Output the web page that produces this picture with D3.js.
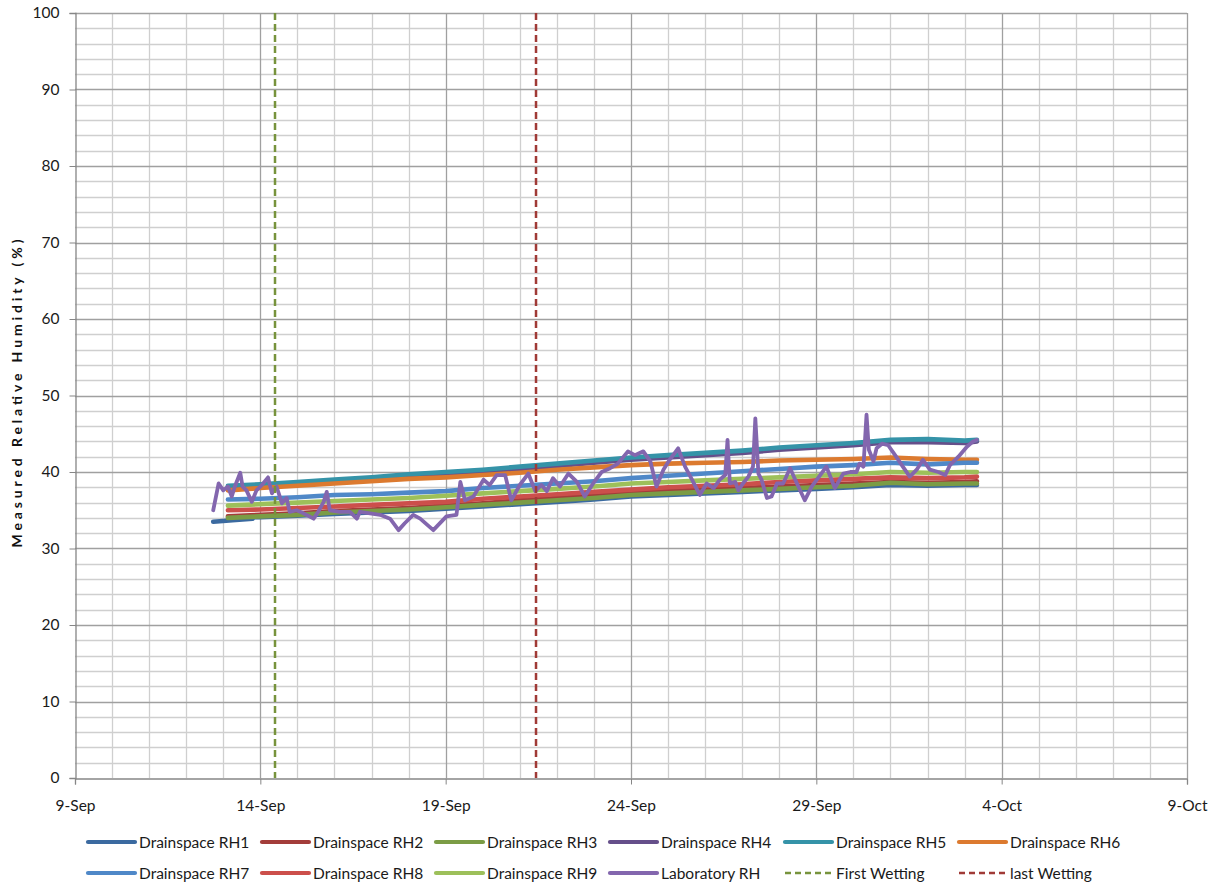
<!DOCTYPE html>
<html><head><meta charset="utf-8">
<script src="https://cdn.jsdelivr.net/npm/d3@7"></script>
<style>
html,body{margin:0;padding:0;background:#fff;}
svg{display:block;font-family:Lato,"Open Sans",sans-serif;}
</style></head>
<body><svg id="chart" width="1217" height="886"></svg>
<script>
const YEAR = 2011;
const seriesNames = ["Drainspace RH1","Drainspace RH2","Drainspace RH3","Drainspace RH4","Drainspace RH5","Drainspace RH6","Drainspace RH7","Drainspace RH8","Drainspace RH9","Laboratory RH"];
const seriesColors = ["#3B6AA0","#A33D3A","#7B9C45","#654F8A","#3593A8","#DC7A2F","#4F88C8","#CC4F4B","#9DC05A","#8366AE"];
const wettingNames = ["First Wetting","last Wetting"];
const wettingTimes = ["09-14 09:30","09-21 10:30"];
const wettingColors = ["#77933C","#A03A36"];
const xTickDates = ["09-09","09-14","09-19","09-24","09-29","10-04","10-09"];
const yTicks = [0,10,20,30,40,50,60,70,80,90,100];

const rh1Times = ["09-12 17:30","09-13 06:00","09-13 19:00","09-13 19:30","09-14 00:00","09-15 00:00","09-16 00:00","09-17 00:00","09-18 00:00","09-19 00:00","09-20 00:00","09-21 00:00","09-22 00:00","09-23 00:00","09-24 00:00","09-25 00:00","09-26 00:00","09-27 00:00","09-28 00:00","09-29 00:00","09-30 00:00","10-01 00:00","10-02 00:00","10-03 00:00","10-03 08:00"];
const rh1 = [33.5,33.7,33.9,34.1,34.1,34.3,34.5,34.7,34.9,35.2,35.5,35.8,36.1,36.4,36.8,37.0,37.2,37.4,37.6,37.8,38.0,38.3,38.2,38.3,38.3];

const drainTimes = ["09-13 03:00","09-14 00:00","09-15 00:00","09-16 00:00","09-17 00:00","09-18 00:00","09-19 00:00","09-20 00:00","09-21 00:00","09-22 00:00","09-23 00:00","09-24 00:00","09-25 00:00","09-26 00:00","09-27 00:00","09-28 00:00","09-29 00:00","09-30 00:00","10-01 00:00","10-02 00:00","10-03 00:00","10-03 08:00"];
const rh2 = [34.2,34.4,34.6,34.9,35.1,35.3,35.6,35.9,36.3,36.6,36.9,37.2,37.5,37.7,37.9,38.1,38.3,38.5,38.7,38.6,38.7,38.8];
const rh3 = [34.0,34.2,34.4,34.7,34.9,35.1,35.4,35.7,36.0,36.3,36.6,37.0,37.2,37.4,37.6,37.8,38.0,38.2,38.6,38.4,38.5,38.5];
const rh4 = [37.9,38.1,38.4,38.7,39.0,39.4,39.7,40.0,40.4,40.8,41.2,41.6,41.9,42.2,42.5,42.9,43.2,43.5,43.9,43.9,43.8,44.0];
const rh5 = [38.2,38.4,38.7,39.0,39.3,39.7,40.0,40.3,40.7,41.1,41.5,41.9,42.2,42.5,42.8,43.2,43.5,43.8,44.2,44.3,44.1,44.2];
const rh6 = [37.6,37.9,38.2,38.5,38.8,39.1,39.3,39.6,39.9,40.3,40.6,40.9,41.1,41.2,41.3,41.5,41.6,41.7,41.9,41.7,41.6,41.6];
const rh7 = [36.4,36.5,36.7,37.0,37.1,37.3,37.5,37.9,38.2,38.5,38.8,39.2,39.5,39.8,40.1,40.4,40.7,40.9,41.2,41.0,41.2,41.2];
const rh8 = [35.0,35.1,35.3,35.5,35.7,35.9,36.1,36.5,36.8,37.1,37.4,37.7,38.0,38.2,38.4,38.7,38.9,39.1,39.3,39.2,39.3,39.4];
const rh9 = [35.6,35.8,36.0,36.2,36.4,36.6,36.9,37.2,37.5,37.8,38.1,38.5,38.7,38.9,39.1,39.3,39.5,39.7,40.0,39.9,40.0,40.0];

const labTimes = ["09-12 17:30","09-12 21:00","09-13 00:00","09-13 03:00","09-13 05:30","09-13 07:30","09-13 11:00","09-13 12:30","09-13 15:00","09-13 18:30","09-13 21:30","09-14 01:00","09-14 05:00","09-14 07:30","09-14 10:30","09-14 14:00","09-14 17:00","09-14 19:00","09-14 23:30","09-15 04:00","09-15 10:30","09-15 13:30","09-15 17:00","09-15 19:00","09-15 21:00","09-16 03:30","09-16 10:00","09-16 14:30","09-16 16:30","09-16 23:00","09-17 05:30","09-17 12:00","09-17 17:30","09-17 21:30","09-18 03:00","09-18 07:30","09-18 16:00","09-19 00:30","09-19 07:00","09-19 09:30","09-19 12:30","09-19 18:00","09-20 00:30","09-20 04:30","09-20 09:00","09-20 14:30","09-20 18:30","09-21 00:00","09-21 05:30","09-21 10:00","09-21 14:00","09-21 17:30","09-21 21:30","09-22 02:00","09-22 07:30","09-22 13:00","09-22 18:00","09-22 23:30","09-23 05:00","09-23 10:30","09-23 15:30","09-23 22:00","09-24 02:30","09-24 08:00","09-24 12:30","09-24 16:30","09-24 21:00","09-25 01:00","09-25 06:30","09-25 11:00","09-25 15:30","09-25 20:30","09-26 01:00","09-26 05:30","09-26 09:30","09-26 13:00","09-26 14:30","09-26 16:00","09-26 19:30","09-26 21:30","09-27 00:30","09-27 04:00","09-27 07:00","09-27 08:30","09-27 10:30","09-27 12:30","09-27 16:00","09-27 19:00","09-27 22:30","09-28 02:30","09-28 07:00","09-28 11:00","09-28 16:30","09-28 21:00","09-29 02:30","09-29 06:30","09-29 12:00","09-29 17:30","09-29 22:00","09-30 02:00","09-30 04:00","09-30 06:30","09-30 08:30","09-30 10:00","09-30 13:00","09-30 15:00","09-30 18:30","09-30 22:30","10-01 03:00","10-01 08:00","10-01 12:30","10-01 17:00","10-01 21:00","10-02 01:30","10-02 07:00","10-02 11:30","10-02 14:30","10-02 20:00","10-03 01:30","10-03 05:30","10-03 08:00"];
const labRH = [35.0,38.5,37.6,38.1,36.8,38.1,39.9,38.1,37.6,36.1,37.6,38.3,39.3,37.2,38.1,35.9,36.6,34.8,35.0,34.6,33.9,34.8,36.1,37.4,35.0,34.8,34.8,33.9,34.8,34.6,34.4,33.9,32.4,33.3,34.4,33.9,32.4,34.2,34.4,38.7,36.3,36.8,39.0,38.3,39.6,39.6,36.3,38.3,39.8,37.5,38.3,37.5,39.2,38.1,39.8,38.7,36.8,38.5,40.0,40.5,41.1,42.7,42.2,42.7,41.4,38.1,40.3,41.6,43.1,40.7,39.0,37.0,38.5,37.9,39.0,39.6,44.2,38.5,38.7,37.6,38.5,39.4,40.7,47.0,39.8,39.0,36.6,36.8,38.5,38.5,40.5,38.7,36.3,38.1,39.6,40.7,37.9,39.8,40.0,40.0,41.1,40.7,47.5,42.9,41.4,43.1,43.7,43.5,42.2,40.7,39.4,40.3,41.6,40.3,40.0,39.6,40.9,42.0,43.3,44.0,44.2];

const parseT = s => d3.timeParse("%Y-%m-%d %H:%M")(YEAR + "-" + (s.length === 5 ? s + " 00:00" : s));

const seriesData = [
  [rh1Times, rh1],[drainTimes, rh2],[drainTimes, rh3],[drainTimes, rh4],[drainTimes, rh5],
  [drainTimes, rh6],[drainTimes, rh7],[drainTimes, rh8],[drainTimes, rh9],[labTimes, labRH]
].map(([t, v]) => t.map((s, i) => ({ t: parseT(s), v: v[i] })));

const svg = d3.select("#chart");
const L = 75, R = 1187, T = 13, B = 778;
const x = d3.scaleTime().domain([parseT("09-09"), parseT("10-09")]).range([L, R]);
const y = d3.scaleLinear().domain([0, 100]).range([B, T]);

// grid
const g = svg.append("g");
const days = d3.timeDay.range(parseT("09-09"), d3.timeDay.offset(parseT("10-09"), 1));
const majorX = xTickDates.map(parseT);
const isMajorX = d => majorX.some(m => +m === +d);
g.selectAll("line.vx").data(days.filter(d => !isMajorX(d))).enter().append("line")
  .attr("x1", d => Math.round(x(d)) + 0.5).attr("x2", d => Math.round(x(d)) + 0.5)
  .attr("y1", T).attr("y2", B).attr("stroke", "#cfcfcf").attr("stroke-width", 1.3);
const hy = d3.range(0, 101, 2);
g.selectAll("line.hy").data(hy.filter(v => v % 10 !== 0)).enter().append("line")
  .attr("x1", L).attr("x2", R).attr("y1", d => Math.round(y(d)) + 0.5).attr("y2", d => Math.round(y(d)) + 0.5)
  .attr("stroke", "#cfcfcf").attr("stroke-width", 1.3);
g.selectAll("line.mx").data(majorX.slice(1)).enter().append("line")
  .attr("x1", d => Math.round(x(d)) + 0.5).attr("x2", d => Math.round(x(d)) + 0.5)
  .attr("y1", T).attr("y2", B).attr("stroke", "#a0a0a0").attr("stroke-width", 1.3);
g.selectAll("line.my").data(yTicks.slice(1)).enter().append("line")
  .attr("x1", L).attr("x2", R).attr("y1", d => Math.round(y(d)) + 0.5).attr("y2", d => Math.round(y(d)) + 0.5)
  .attr("stroke", "#a0a0a0").attr("stroke-width", 1.3);

// axes
const yAxis = d3.axisLeft(y).tickValues(yTicks).tickSize(6).tickPadding(10);
const ya = svg.append("g").attr("transform", `translate(${L + 0.5},0)`).call(yAxis);
ya.select(".domain").attr("stroke", "#868686").attr("stroke-width", 1.3);
ya.selectAll(".tick line").attr("stroke", "#868686");
ya.selectAll("text").attr("font-size", 15.5).attr("fill", "#1a1a1a").attr("font-family", "Lato, sans-serif");

const xAxis = d3.axisBottom(x).tickValues(majorX).tickFormat(d3.timeFormat("%-d-%b")).tickSize(6).tickPadding(15);
const xa = svg.append("g").attr("transform", `translate(0,${B + 0.5})`).call(xAxis);
xa.select(".domain").attr("stroke", "#868686").attr("stroke-width", 1.3);
xa.selectAll(".tick line").attr("stroke", "#868686");
xa.selectAll("text").attr("font-size", 15.5).attr("fill", "#1a1a1a").attr("font-family", "Lato, sans-serif");

svg.append("text").attr("transform", `translate(22,${(T + B) / 2 - 2}) rotate(-90)`)
  .attr("text-anchor", "middle").attr("font-size", 14).attr("font-weight", "bold").attr("fill", "#111")
  .attr("textLength", 308).attr("lengthAdjust", "spacing")
  .text("Measured Relative Humidity (%)");

// series
const line = d3.line().x(d => x(d.t)).y(d => y(d.v)).curve(d3.curveLinear);
const plot = svg.append("g");
seriesData.forEach((data, i) => {
  plot.append("path").datum(data).attr("d", line).attr("fill", "none")
    .attr("stroke", seriesColors[i]).attr("stroke-width", i === 9 ? 3.8 : 4.6)
    .attr("stroke-linejoin", "round").attr("stroke-linecap", "round");
});

// wetting lines
wettingTimes.forEach((s, i) => {
  const xv = x(parseT(s));
  plot.append("line").attr("x1", xv).attr("x2", xv).attr("y1", T).attr("y2", B)
    .attr("stroke", wettingColors[i]).attr("stroke-width", 2.5).attr("stroke-dasharray", "7,4");
});

// legend
const legendItems = seriesNames.map((n, i) => ({ name: n, color: seriesColors[i], dash: null }))
  .concat(wettingNames.map((n, i) => ({ name: n, color: wettingColors[i], dash: "6,4" })));
const colX = [88, 262, 436, 610, 785, 959];
const rowY = [842, 873];
const lg = svg.append("g");
legendItems.forEach((it, i) => {
  const cx = colX[i % 6], cy = rowY[Math.floor(i / 6)];
  lg.append("line").attr("x1", cx).attr("x2", cx + 47).attr("y1", cy).attr("y2", cy)
    .attr("stroke", it.color).attr("stroke-width", it.dash ? 2.5 : 4.2)
    .attr("stroke-dasharray", it.dash).attr("stroke-linecap", it.dash ? "butt" : "round");
  lg.append("text").attr("x", cx + 51).attr("y", cy + 5.5).attr("font-size", 15.5).attr("fill", "#1a1a1a")
    .text(it.name);
});
</script></body></html>
